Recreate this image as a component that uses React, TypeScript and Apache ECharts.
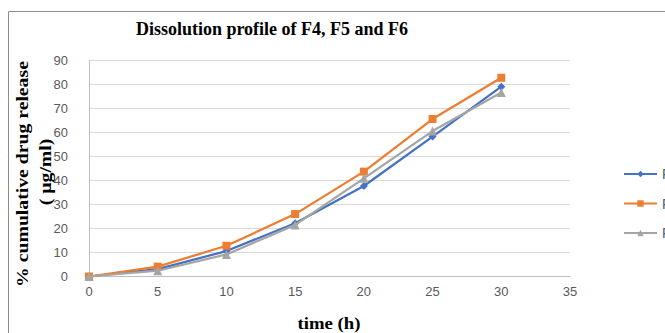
import React, { useEffect, useRef } from "react";
import * as echarts from "echarts";

const timeH = [0, 5, 10, 15, 20, 25, 30];
const seriesNames = ["F4", "F5", "F6"];
const f4 = [0, 3.1, 10.6, 22.2, 37.7, 58.3, 79.1];
const f5 = [0, 4.1, 12.8, 26.0, 43.7, 65.6, 82.8];
const f6 = [0, 2.4, 9.2, 21.5, 40.9, 60.6, 76.7];
const colors = ["#4472C4", "#ED7D31", "#A5A5A5"];
const symbols = ["diamond", "rect", "triangle"];
const symbolSizes = [8, 8, 9];
const titleText = "Dissolution profile of F4, F5 and F6";
const yNameLines = ["% cumulative drug release", "( µg/ml)"];
const xName = "time (h)";

export default function App() {
  const ref = useRef<HTMLDivElement>(null);
  useEffect(() => {
    if (!ref.current) return;
    const chart = echarts.init(ref.current, null, { renderer: "svg" });
    const data = [f4, f5, f6];
    const axisTitleStyle = {
      fontFamily: "Liberation Serif",
      fontWeight: "bold",
      fontSize: 17,
      fill: "#000000",
      align: "center",
      verticalAlign: "middle",
    };
    chart.setOption({
      animation: false,
      backgroundColor: "#ffffff",
      title: {
        text: titleText,
        left: 267,
        textAlign: "center",
        top: 15,
        textStyle: {
          fontFamily: "Liberation Serif",
          fontWeight: "bold",
          fontSize: 18,
          color: "#000000",
        },
      },
      graphic: [
        {
          type: "rect",
          shape: { x: 8.5, y: 11.5, width: 700, height: 400 },
          style: { fill: "none", stroke: "#8c8c8c", lineWidth: 1 },
          silent: true,
        },
        {
          type: "text",
          x: 22.5,
          y: 174,
          rotation: Math.PI / 2,
          scaleX: 1.16,
          style: { ...axisTitleStyle, text: yNameLines[0] },
          silent: true,
        },
        {
          type: "text",
          x: 45.5,
          y: 172,
          rotation: Math.PI / 2,
          scaleX: 1.16,
          style: { ...axisTitleStyle, text: yNameLines[1] },
          silent: true,
        },
        {
          type: "text",
          x: 329,
          y: 323,
          scaleX: 1.17,
          style: { ...axisTitleStyle, fontSize: 16, text: xName },
          silent: true,
        },
      ],
      legend: {
        orient: "vertical",
        left: 618,
        top: 162,
        itemWidth: 33,
        itemHeight: 8,
        itemGap: 15.5,
        textStyle: {
          fontFamily: "Liberation Sans",
          fontSize: 14,
          lineHeight: 14,
          color: "#595959",
        },
        data: seriesNames,
      },
      grid: {
        left: 89,
        right: 95,
        top: 60.5,
        bottom: 56.5,
        containLabel: false,
        outerBoundsMode: "none",
      },
      xAxis: {
        type: "value",
        min: 0,
        max: 35,
        interval: 5,
        axisLine: { lineStyle: { color: "#bfbfbf", width: 1 } },
        axisTick: { show: false },
        splitLine: { show: false },
        axisLabel: {
          fontFamily: "Liberation Sans",
          fontSize: 13,
          color: "#595959",
          margin: 8,
        },
      },
      yAxis: {
        type: "value",
        min: 0,
        max: 90,
        interval: 10,
        axisLine: { show: true, lineStyle: { color: "#bfbfbf", width: 1 } },
        axisTick: { show: false },
        splitLine: { lineStyle: { color: "#d9d9d9", width: 1 } },
        axisLabel: {
          fontFamily: "Liberation Sans",
          fontSize: 13,
          color: "#595959",
          margin: 21,
        },
      },
      series: seriesNames.map((name, i) => ({
        name,
        type: "line",
        data: timeH.map((t, j) => [t, data[i][j]]),
        symbol: symbols[i],
        symbolSize: symbolSizes[i],
        showSymbol: true,
        lineStyle: { color: colors[i], width: 2.25 },
        itemStyle: { color: colors[i], borderWidth: 0 },
        z: 2 + i,
      })),
    });
    return () => chart.dispose();
  }, []);
  return (
    <div
      ref={ref}
      style={{ position: "fixed", left: 0, top: 0, width: 665, height: 333 }}
    />
  );
}
